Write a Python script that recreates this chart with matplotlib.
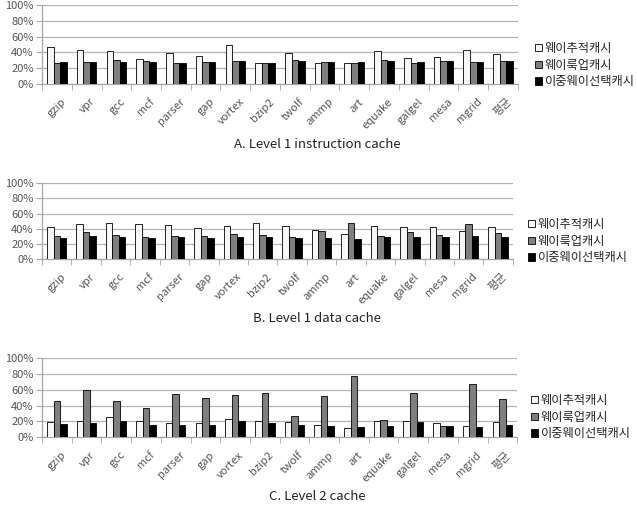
import matplotlib
matplotlib.use("Agg")
import matplotlib.pyplot as plt
import numpy as np
from matplotlib.patches import Patch

plt.rcParams['font.family'] = ['Noto Sans CJK KR', 'DejaVu Sans']

# benchmarks
categories = ['gzip', 'vpr', 'gcc', 'mcf', 'parser', 'gap', 'vortex', 'bzip2', 'twolf',
              'ammp', 'art', 'equake', 'galgel', 'mesa', 'mgrid', '평균']
series_names = ['웨이추적캐시', '웨이룩업캐시', '이중웨이선택캐시']

# A. Level 1 instruction cache (%)
l1i_trace = [47, 43, 41.5, 32, 39.5, 35.5, 50, 27, 39.5, 27, 27, 41.5, 33, 34, 42.5, 37.5]
l1i_lookup = [27, 28, 30, 29, 27, 28, 29, 27, 30, 28, 27, 30, 27, 28.5, 27.5, 28.5]
l1i_dual = [27.5, 28, 28, 28, 27, 28, 29, 27, 29, 28, 28, 29, 27.5, 28.5, 27.5, 28.5]

# B. Level 1 data cache (%)
l1d_trace = [42, 46, 47, 46, 45, 40.5, 43, 47, 43.5, 38, 32.5, 43.5, 42.5, 42, 36.5, 42.5]
l1d_lookup = [30.5, 35.5, 31.5, 29.5, 31, 30.5, 33, 31.5, 29.5, 36.5, 48, 31, 35.5, 31.5, 46, 34]
l1d_dual = [28, 30.5, 29.5, 28, 28.5, 28, 29.5, 29, 28, 28, 26, 29, 29.5, 29, 30, 28.5]

# C. Level 2 cache (%)
l2_trace = [19.5, 20, 25.5, 20, 18, 17.5, 23.5, 21, 19.5, 16, 12, 21, 21, 18.5, 14.5, 19.5]
l2_lookup = [46, 60, 46, 36.5, 54.5, 49.5, 53, 56.5, 27, 52, 77.5, 22, 56.5, 14.5, 67, 48]
l2_dual = [17, 18, 20.5, 15, 15.5, 15.5, 20, 18, 15.5, 14.5, 13, 14, 19, 14.5, 13.5, 16]

titles = ['A. Level 1 instruction cache', 'B. Level 1 data cache', 'C. Level 2 cache']
yticks = [0, 20, 40, 60, 80, 100]
ytick_labels = ['0%', '20%', '40%', '60%', '80%', '100%']

panels = [
    (l1i_trace, l1i_lookup, l1i_dual),
    (l1d_trace, l1d_lookup, l1d_dual),
    (l2_trace, l2_lookup, l2_dual),
]
# axes rects in figure fraction: [left, bottom, width, height]
rects = [
    [0.066, 0.836, 0.747, 0.154],
    [0.066, 0.494, 0.739, 0.148],
    [0.066, 0.146, 0.746, 0.154],
]
title_y = [145, 318, 497]
legend_pos = [(535, 42), (528, 218), (531, 394)]

colors = ['#f7f7f7', '#7f7f7f', '#000000']
axis_gray = '#a6a6a6'
text_gray = '#555555'

fig = plt.figure(figsize=(6.37, 5.12), dpi=100)
W, H = 637, 512

for (vals, rect, ty, lp, title) in zip(panels, rects, title_y, legend_pos, titles):
    ax = fig.add_axes(rect)
    x = np.arange(len(categories))
    bw = 0.22
    for k, (v, c) in enumerate(zip(vals, colors)):
        ax.bar(x + (k - 1) * bw, v, width=bw, color=c, edgecolor='black', linewidth=0.6, zorder=3)
    ax.set_xlim(-0.5, len(categories) - 0.5)
    ax.set_ylim(0, 100)
    ax.set_yticks(yticks)
    ax.set_yticklabels(ytick_labels, fontsize=8, color=text_gray)
    ax.grid(axis='y', color='#b3b3b3', linewidth=0.9, zorder=0)
    ax.set_xticks(x + 0.12)
    ax.set_xticklabels(categories, rotation=45, ha='right', rotation_mode='anchor',
                       fontsize=8, color=text_gray)
    ax.set_xticks(np.arange(len(categories) + 1) - 0.5, minor=True)
    ax.tick_params(axis='x', which='major', length=0, pad=9)
    ax.tick_params(axis='x', which='minor', length=4, color=axis_gray, direction='out')
    ax.tick_params(axis='y', length=4, color=axis_gray, pad=2)
    for s in ['top', 'right']:
        ax.spines[s].set_visible(False)
    for s in ['left', 'bottom']:
        ax.spines[s].set_color(axis_gray)
        ax.spines[s].set_linewidth(0.9)

    handles = [Patch(facecolor=c, edgecolor='black', linewidth=0.6) for c in colors]
    fig.legend(handles, series_names, loc='upper left',
               bbox_to_anchor=(lp[0] / W, 1 - lp[1] / H), frameon=False,
               fontsize=8.8, handlelength=0.55, handleheight=0.55, handletextpad=0.25,
               labelspacing=0.3, borderaxespad=0, borderpad=0, labelcolor='#222222')

    fig.text(0.498, 1 - ty / H, title, ha='center', va='center', fontsize=9.5, color='#222222')

fig.savefig('out.png', dpi=100)
